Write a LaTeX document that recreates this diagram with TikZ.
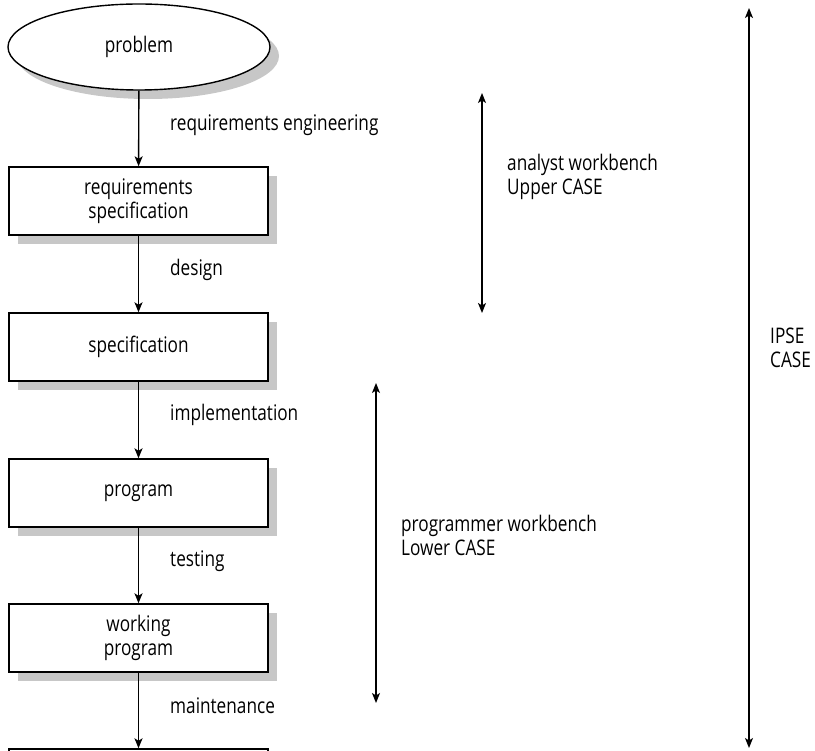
\documentclass[tikz,border=0pt]{standalone}
\usepackage{fontspec}
\setmainfont{Open Sans}[FakeStretch=0.8]
\usetikzlibrary{arrows.meta,shapes.geometric,shadows}
\begin{document}
\begin{tikzpicture}[x=1pt,y=-1pt,
  every node/.style={font=\fontsize{21.5}{24}\selectfont},
  shad/.style={drop shadow={shadow xshift=9pt,shadow yshift=-9pt,fill=black!22,opacity=1}},
  stepbox/.style={draw,line width=1.4pt,fill=white,minimum width=259pt,minimum height=68pt,align=center,inner sep=0pt,shad},
  blob/.style={draw,line width=1.4pt,fill=white,ellipse,minimum width=262pt,minimum height=86pt,inner sep=0pt,shad},
  flow/.style={line width=1.4pt,-{Stealth[length=10pt,width=8pt,inset=2.5pt]}},
  span/.style={line width=1.4pt,{Stealth[length=10pt,width=8pt,inset=2.5pt]}-{Stealth[length=10pt,width=8pt,inset=2.5pt]}},
  lab/.style={anchor=west,inner sep=0pt,align=left}]
\useasboundingbox (0,0) rectangle (815,751);
\node[blob] (problem) at (139,47) {problem};
\node[stepbox] (reqspec) at (138.5,201) {requirements\\specification};
\node[stepbox] (spec) at (138.5,347) {specification};
\node[stepbox] (prog) at (138.5,493) {program};
\node[stepbox] (work) at (138.5,638) {working\\program};
\node[stepbox] (next) at (138.5,783) {};
\draw[flow] (problem) -- (reqspec);
\draw[flow] (reqspec) -- (spec);
\draw[flow] (spec) -- (prog);
\draw[flow] (prog) -- (work);
\draw[flow] (work) -- (next);
\node[lab] (l1) at (170,125) {requirements engineering};
\node[lab] (l2) at (170,270) {design};
\node[lab] (l3) at (170,415) {implementation};
\node[lab] (l4) at (170,561) {testing};
\node[lab] (l5) at (170,706) {maintenance};
\coordinate (a1) at (482,93);
\coordinate (a2) at (482,313);
\draw[span] (a1) -- (a2);
\node[lab] (atext) at (507,177) {analyst workbench\\Upper CASE};
\coordinate (p1) at (376,383);
\coordinate (p2) at (376,703);
\draw[span] (p1) -- (p2);
\node[lab] (ptext) at (401,535) {programmer workbench\\Lower CASE};
\coordinate (i1) at (749,8);
\coordinate (i2) at (749,748);
\draw[span] (i1) -- (i2);
\node[lab] (itext) at (770,348) {IPSE\\CASE};
\end{tikzpicture}
\end{document}
